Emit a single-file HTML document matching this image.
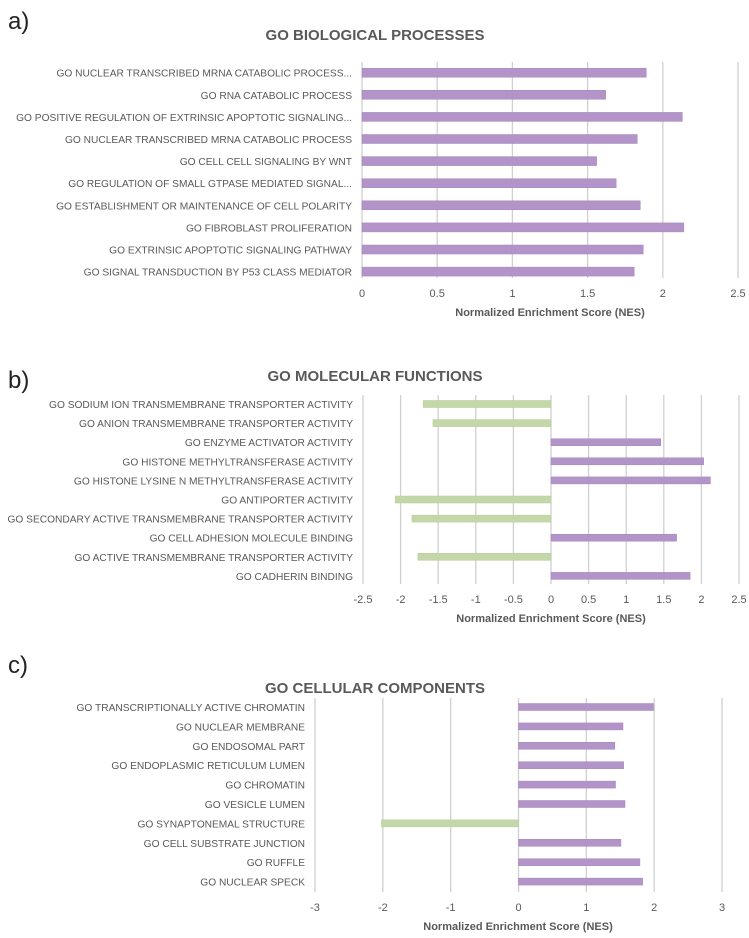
<!DOCTYPE html>
<html><head><meta charset="utf-8">
<style>
body{margin:0;background:#fff;}
svg{display:block;font-family:"Liberation Sans",sans-serif;}
</style></head>
<body>
<svg id="s" width="749" height="938">
<text x="8" y="29" font-size="24" fill="#222">a)</text>
<text x="8" y="388" font-size="24" fill="#222">b)</text>
<text x="8" y="673" font-size="24" fill="#222">c)</text>
</svg>
<script>
const catsA=["GO NUCLEAR TRANSCRIBED MRNA CATABOLIC PROCESS...","GO RNA CATABOLIC PROCESS","GO POSITIVE REGULATION OF EXTRINSIC APOPTOTIC SIGNALING...","GO NUCLEAR TRANSCRIBED MRNA CATABOLIC PROCESS","GO CELL CELL SIGNALING BY WNT","GO REGULATION OF SMALL GTPASE MEDIATED SIGNAL...","GO ESTABLISHMENT OR MAINTENANCE OF CELL POLARITY","GO FIBROBLAST PROLIFERATION","GO EXTRINSIC APOPTOTIC SIGNALING PATHWAY","GO SIGNAL TRANSDUCTION BY P53 CLASS MEDIATOR"];
const valsA=[1.89,1.62,2.13,1.83,1.56,1.69,1.85,2.14,1.87,1.81];
const ticksA=[0,0.5,1,1.5,2,2.5];
const catsB=["GO SODIUM ION TRANSMEMBRANE TRANSPORTER ACTIVITY","GO ANION TRANSMEMBRANE TRANSPORTER ACTIVITY","GO ENZYME ACTIVATOR ACTIVITY","GO HISTONE METHYLTRANSFERASE ACTIVITY","GO HISTONE LYSINE N METHYLTRANSFERASE ACTIVITY","GO ANTIPORTER ACTIVITY","GO SECONDARY ACTIVE TRANSMEMBRANE TRANSPORTER ACTIVITY","GO CELL ADHESION MOLECULE BINDING","GO ACTIVE TRANSMEMBRANE TRANSPORTER ACTIVITY","GO CADHERIN BINDING"];
const valsB=[-1.70,-1.57,1.46,2.03,2.12,-2.07,-1.85,1.67,-1.77,1.85];
const ticksB=[-2.5,-2,-1.5,-1,-0.5,0,0.5,1,1.5,2,2.5];
const catsC=["GO TRANSCRIPTIONALLY ACTIVE CHROMATIN","GO NUCLEAR MEMBRANE","GO ENDOSOMAL PART","GO ENDOPLASMIC RETICULUM LUMEN","GO CHROMATIN","GO VESICLE LUMEN","GO SYNAPTONEMAL STRUCTURE","GO CELL SUBSTRATE JUNCTION","GO RUFFLE","GO NUCLEAR SPECK"];
const valsC=[1.99,1.54,1.42,1.55,1.43,1.57,-2.02,1.51,1.79,1.83];
const ticksC=[-3,-2,-1,0,1,2,3];

const NS="http://www.w3.org/2000/svg";
const svg=document.getElementById('s');
function mk(tag,attrs,parent){const e=document.createElementNS(NS,tag);for(const k in attrs)e.setAttribute(k,attrs[k]);(parent||svg).appendChild(e);return e;}

function panel(key,title,titleY,axisTitleX,cats,vals,ticks,x0,x1,gTop,gBot,firstY,step,barH){
  const g=mk('g',{});
  
  
  const mn=ticks[0],mx=ticks[ticks.length-1];
  const sx=v=>x0+(v-mn)/(mx-mn)*(x1-x0);
  const t=mk('text',{x:375,y:titleY,'text-anchor':'middle','font-size':15,'font-weight':'bold',fill:'#595959'},g);
  t.textContent=title;
  
  
  ticks.forEach(v=>{
    const l=mk('line',{x1:sx(v),x2:sx(v),y1:gTop,y2:gBot,stroke:'#d0d0d0','stroke-width':1.3},g);
    
    
    const tl=mk('text',{x:sx(v),y:gBot+19,'text-anchor':'middle','font-size':11,fill:'#595959'},g);
    tl.textContent=String(v);
    
    
  });
  const at=mk('text',{x:axisTitleX,y:gBot+38,'text-anchor':'middle','font-size':11,'font-weight':'bold',fill:'#595959'},g);
  at.textContent='Normalized Enrichment Score (NES)';
  
  
  cats.forEach((c,i)=>{
    const y=firstY+i*step;
    const lb=mk('text',{x:x0-10,y:y+4,'text-anchor':'end','font-size':10.2,fill:'#595959'},g);
    lb.textContent=c;
    
    
    const v=vals[i];
    const a=sx(Math.min(0,v)),b=sx(Math.max(0,v));
    const r=mk('rect',{x:a,y:y-barH/2,width:b-a,height:barH,fill:v<0?'#c4d7a9':'#b294c8',stroke:v<0?'#b5cc98':'#a585bd','stroke-width':0.5},g);
    
    
  });
}
panel('a','GO BIOLOGICAL PROCESSES',40,550,catsA,valsA,ticksA,362,738,62,278,72.7,22.1,9);
panel('b','GO MOLECULAR FUNCTIONS',381,551,catsB,valsB,ticksB,363,739,395,584,404,19.1,7);
panel('c','GO CELLULAR COMPONENTS',693,518,catsC,valsC,ticksC,315,722,698,892,707,19.4,7);
</script>
</body></html>
